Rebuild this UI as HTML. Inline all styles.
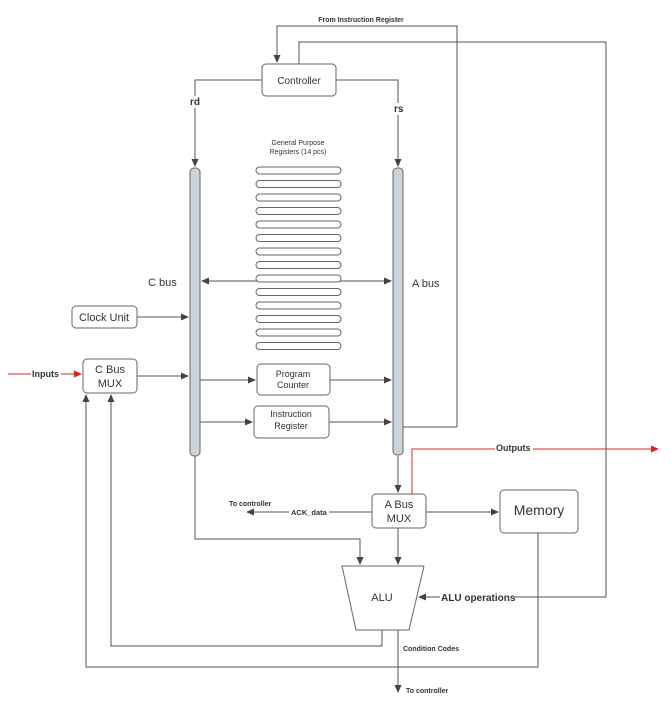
<!DOCTYPE html>
<html><head><style>body{margin:0;background:#fff}svg{display:block}text{font-family:"Liberation Sans",sans-serif;fill:#333}</style></head><body>
<svg width="671" height="706" viewBox="0 0 671 706">
<defs>
<marker id="a" markerWidth="8" markerHeight="8" refX="7" refY="4" orient="auto" markerUnits="userSpaceOnUse"><path d="M0,0.5 L8,4 L0,7.5z" fill="#444"/></marker>
<marker id="r" markerWidth="8" markerHeight="8" refX="7" refY="4" orient="auto" markerUnits="userSpaceOnUse"><path d="M0,0.5 L8,4 L0,7.5z" fill="#e02020"/></marker>
<marker id="s" markerWidth="8" markerHeight="8" refX="1" refY="4" orient="auto" markerUnits="userSpaceOnUse"><path d="M8,0.5 L0,4 L8,7.5z" fill="#444"/></marker>
</defs>
<g fill="none" stroke="#555" stroke-width="1">
<path d="M457,427 V26 H277 V62" marker-end="url(#a)"/>
<path d="M403,427 H457"/>
<path d="M299,64 V42 H606 V597 H419" marker-end="url(#a)"/>
<path d="M262,80 H195 V166" marker-end="url(#a)"/>
<path d="M336,80 H398 V166" marker-end="url(#a)"/>
<path d="M202,281 H391" marker-start="url(#s)" marker-end="url(#a)"/>
<path d="M137,317 H188" marker-end="url(#a)"/>
<path d="M137,376 H188" marker-end="url(#a)"/>
<path d="M200,380 H255" marker-end="url(#a)"/>
<path d="M330,380 H391" marker-end="url(#a)"/>
<path d="M200,422 H252" marker-end="url(#a)"/>
<path d="M329,422 H391" marker-end="url(#a)"/>
<path d="M398,456 V492" marker-end="url(#a)"/>
<path d="M372,512 H247" marker-end="url(#a)"/>
<path d="M426,512 H498" marker-end="url(#a)"/>
<path d="M195,456 V539 H360 V564" marker-end="url(#a)"/>
<path d="M398,528 V564" marker-end="url(#a)"/>
<path d="M382,630 V646 H111 V395" marker-end="url(#a)"/>
<path d="M538,533 V667 H86 V395" marker-end="url(#a)"/>
<path d="M398,630 V692" marker-end="url(#a)"/>
</g>
<path d="M8,374 H81" stroke="#e02020" fill="none" marker-end="url(#r)"/>
<path d="M412,494 V449 H658" stroke="#e02020" fill="none" marker-end="url(#r)"/>
<rect x="190" y="168" width="10" height="288" rx="4" fill="#ccd3dc" stroke="#666"/>
<rect x="393" y="168" width="10" height="287" rx="4" fill="#ccd3dc" stroke="#666"/>
<g fill="#fff" stroke="#666">
<rect x="262" y="64" width="74" height="32" rx="4"/>
<rect x="72" y="306" width="65" height="22" rx="4"/>
<rect x="83" y="359" width="54" height="34" rx="4"/>
<rect x="257" y="364" width="73" height="31" rx="4"/>
<rect x="254" y="406" width="75" height="32" rx="4"/>
<rect x="372" y="494" width="54" height="34" rx="4"/>
<rect x="500" y="490" width="78" height="43" rx="4"/>
<path d="M342,566 H424 L409,630 H356 Z" stroke-linejoin="round"/>
<rect x="256" y="167" width="85" height="7" rx="3.5"/><rect x="256" y="180.5" width="85" height="7" rx="3.5"/><rect x="256" y="194" width="85" height="7" rx="3.5"/><rect x="256" y="207.5" width="85" height="7" rx="3.5"/><rect x="256" y="221" width="85" height="7" rx="3.5"/><rect x="256" y="234.5" width="85" height="7" rx="3.5"/><rect x="256" y="248" width="85" height="7" rx="3.5"/><rect x="256" y="261.5" width="85" height="7" rx="3.5"/><rect x="256" y="275" width="85" height="7" rx="3.5"/><rect x="256" y="288.5" width="85" height="7" rx="3.5"/><rect x="256" y="302" width="85" height="7" rx="3.5"/><rect x="256" y="315.5" width="85" height="7" rx="3.5"/><rect x="256" y="329" width="85" height="7" rx="3.5"/><rect x="256" y="342.5" width="85" height="7" rx="3.5"/>
</g>
<g fill="#fff">
<rect x="188" y="96" width="14" height="12"/>
<rect x="391" y="103" width="14" height="12"/>
<rect x="31" y="368" width="30" height="11"/>
<rect x="495" y="443" width="38" height="11"/>
<rect x="289" y="507" width="40" height="10"/>
<rect x="440" y="591" width="74" height="12"/>
</g>
<g text-anchor="middle">
<text x="299" y="84" font-size="10">Controller</text>
<text x="361" y="22" font-size="7" font-weight="bold">From Instruction Register</text>
<text x="298" y="145" font-size="7">General Purpose</text>
<text x="298" y="154" font-size="7">Registers (14 pcs)</text>
<text x="104" y="321" font-size="11">Clock Unit</text>
<text x="110" y="373" font-size="11">C Bus</text>
<text x="110" y="387" font-size="11">MUX</text>
<text x="293" y="377" font-size="9">Program</text>
<text x="293" y="388" font-size="9">Counter</text>
<text x="291" y="417" font-size="9">Instruction</text>
<text x="291" y="429" font-size="9">Register</text>
<text x="399" y="508" font-size="11">A Bus</text>
<text x="399" y="522" font-size="11">MUX</text>
<text x="539" y="515" font-size="14">Memory</text>
<text x="382" y="601" font-size="11">ALU</text>
</g>
<text x="190" y="105" font-size="10" font-weight="bold">rd</text>
<text x="394" y="112" font-size="10" font-weight="bold">rs</text>
<text x="148" y="286" font-size="11">C bus</text>
<text x="412" y="287" font-size="11">A bus</text>
<text x="32" y="377" font-size="9" font-weight="bold">Inputs</text>
<text x="496" y="451" font-size="9" font-weight="bold">Outputs</text>
<text x="229" y="506" font-size="7" font-weight="bold">To controller</text>
<text x="291" y="515" font-size="7.5" font-weight="bold">ACK_data</text>
<text x="441" y="601" font-size="10" font-weight="bold">ALU operations</text>
<text x="403" y="651" font-size="7" font-weight="bold">Condition Codes</text>
<text x="406" y="693" font-size="7" font-weight="bold">To controller</text>
</svg>
</body></html>
